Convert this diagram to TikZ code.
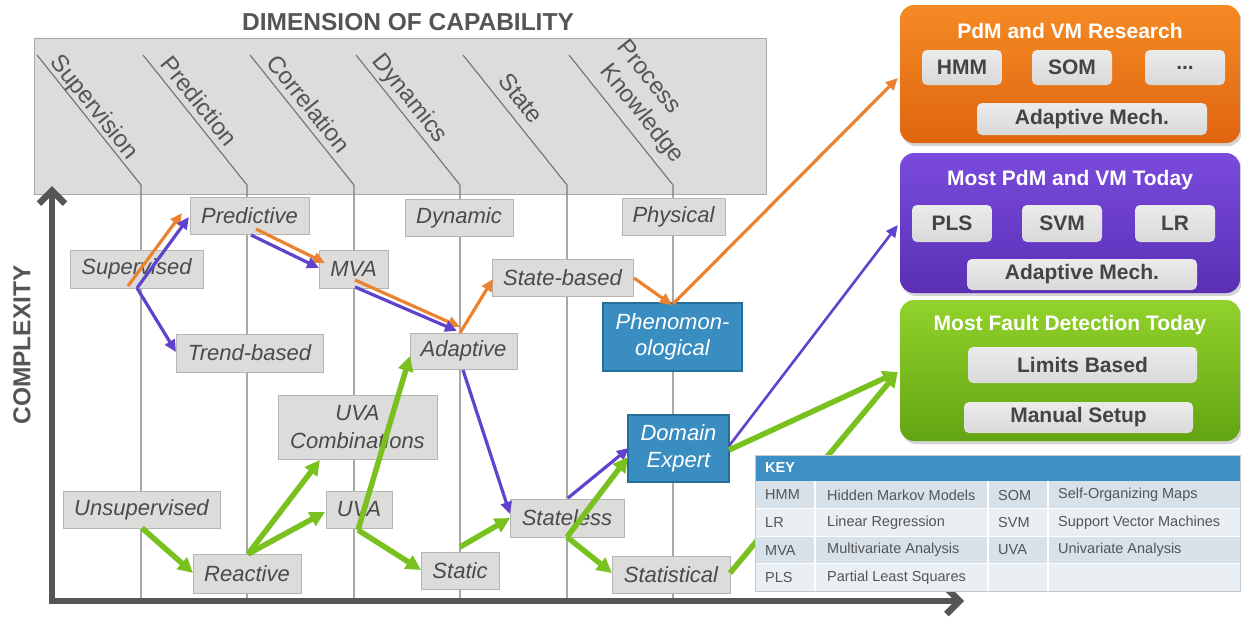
\documentclass[tikz,border=0pt]{standalone}
\usepackage{fontspec}
\setmainfont{Liberation Sans}
\usetikzlibrary{arrows.meta,calc,shadows}
\definecolor{hdrfill}{HTML}{DCDCDA}
\definecolor{hdrline}{HTML}{A8A8A8}
\definecolor{axisc}{HTML}{555555}
\definecolor{vline}{HTML}{7A7A7A}
\definecolor{gfill}{HTML}{DCDCDB}
\definecolor{gdraw}{HTML}{B5B5B5}
\definecolor{gtext}{HTML}{4A4A4A}
\definecolor{bfill}{HTML}{3A8DC0}
\definecolor{bdraw}{HTML}{276E98}
\definecolor{oc}{HTML}{EB8230}
\definecolor{pc}{HTML}{6142CC}
\definecolor{grc}{HTML}{79C11E}
\definecolor{otop}{HTML}{F58A25}
\definecolor{obot}{HTML}{E0650F}
\definecolor{ptop}{HTML}{7A4BDC}
\definecolor{pbot}{HTML}{5A2FB5}
\definecolor{gtop}{HTML}{92D22C}
\definecolor{gbot}{HTML}{62A512}
\definecolor{btntop}{HTML}{EBEBEB}
\definecolor{btnbot}{HTML}{D9D9D9}
\definecolor{btntext}{HTML}{444444}
\definecolor{keyhdr}{HTML}{3D8FC4}
\definecolor{keyrowa}{HTML}{D6E1EA}
\definecolor{keyrowb}{HTML}{EAEFF3}
\definecolor{keytext}{HTML}{555555}
\definecolor{keyborder}{HTML}{C8C8C8}
\begin{document}
\begin{tikzpicture}[x=1pt,y=-1pt,
  titlefont/.style={font=\fontsize{24.5}{28}\selectfont\bfseries, text=axisc},
  hdrlabel/.style={font=\fontsize{24}{28}\selectfont, text=axisc, rotate=-51.3, anchor=base west, inner sep=0pt},
  vln/.style={draw=vline, line width=1.2pt},
  axisline/.style={draw=axisc, line width=6.5pt},
  gbox/.style={draw=gdraw, line width=0.9pt, fill=gfill, text=gtext, font=\fontsize{22}{26}\selectfont\itshape, inner sep=0pt, align=center},
  bbox/.style={draw=bdraw, line width=1.5pt, fill=bfill, text=white, font=\fontsize{22}{26}\selectfont\itshape, inner sep=0pt, align=center},
  oarr/.style={draw=oc, line width=3.2pt, -{Triangle[length=12pt,width=11pt]}},
  parr/.style={draw=pc, line width=3.2pt, -{Triangle[length=12pt,width=11pt]}},
  garr/.style={draw=grc, line width=5.5pt, -{Triangle[length=15pt,width=15pt]}},
  rbox/.style={rounded corners=14pt, inner sep=0pt, minimum width=340, drop shadow={shadow xshift=2pt, shadow yshift=-3pt, opacity=0.35}},
  rtitle/.style={font=\fontsize{21}{25}\selectfont\bfseries, text=white, inner sep=0pt},
  btn/.style={rounded corners=5pt, top color=btntop, bottom color=btnbot, text=btntext, font=\fontsize{21}{25}\selectfont\bfseries, inner sep=0pt},
  keyfont/.style={font=\fontsize{14.5}{17}\selectfont, text=keytext, anchor=west, inner sep=0pt}
]
\useasboundingbox (0,0) rectangle (1241,619);

% ---------- header ----------
\node[titlefont] (title) at (408,22) {DIMENSION OF CAPABILITY};
\node[draw=hdrline, line width=0.9pt, fill=hdrfill, minimum width=732, minimum height=156, inner sep=0pt] (hdr) at (400,116) {};

\foreach \x in {141,247,354,460,567,673}{
  \draw[vln] (\x-104,55) -- (\x,185) -- (\x,600);
}

\node[hdrlabel] (lsup) at (49.5,62.5) {Supervision};
\node[hdrlabel] (lpred) at (159.5,64.5) {Prediction};
\node[hdrlabel] (lcorr) at (265.5,63) {Correlation};
\node[hdrlabel] (ldyn) at (371.5,61.5) {Dynamics};
\node[hdrlabel] (lstate) at (497,81.5) {State};
\node[hdrlabel] (lproc) at (616.5,47.5) {Process};
\node[hdrlabel] (lknow) at (599.5,71.5) {Knowledge};

% ---------- axes ----------
\draw[axisline, line join=miter, {Straight Barb[length=13pt,width=26pt]}-{Straight Barb[length=13pt,width=26pt]}] (52,186) -- (52,601) -- (964,601);
\node[titlefont, rotate=90] (complexity) at (22,345) {COMPLEXITY};

% ---------- gray nodes ----------
\node[gbox, minimum width=119, minimum height=37] (pred) at (249.5,215.5) {Predictive};
\node[gbox, minimum width=133, minimum height=38] (sup) at (136.5,269) {Supervised};
\node[gbox, minimum width=69, minimum height=38] (mva) at (353.5,269) {MVA};
\node[gbox, minimum width=147, minimum height=38] (trend) at (249.5,353) {Trend-based};
\node[gbox, minimum width=108, minimum height=37] (dyn) at (459,217.5) {Dynamic};
\node[gbox, minimum width=103, minimum height=37] (phys) at (673.5,216.5) {Physical};
\node[gbox, minimum width=141, minimum height=37] (stb) at (562.5,277.5) {State-based};
\node[gbox, minimum width=107, minimum height=36] (adapt) at (463.5,351) {Adaptive};
\node[gbox, minimum width=159, minimum height=64, font=\fontsize{22}{28}\selectfont\itshape] (uvac) at (357.5,427) {UVA\\Combinations};
\node[gbox, minimum width=66, minimum height=37] (uva) at (359,509.5) {UVA};
\node[gbox, minimum width=157, minimum height=37] (unsup) at (141.5,509.5) {Unsupervised};
\node[gbox, minimum width=108, minimum height=39] (react) at (247,573.5) {Reactive};
\node[gbox, minimum width=78, minimum height=37] (static) at (460,570.5) {Static};
\node[gbox, minimum width=114, minimum height=38] (stless) at (567,518) {Stateless};
\node[gbox, minimum width=118, minimum height=37] (statl) at (671,574.5) {Statistical};
\node[bbox, minimum width=139, minimum height=68] (phen) at (672.5,337) {Phenomon-\\ological};
\node[bbox, minimum width=101, minimum height=67, font=\fontsize{22}{27}\selectfont\itshape] (dom) at (678.5,448.5) {Domain\\Expert};

% ---------- right boxes ----------
\node[rbox, top color=otop, bottom color=obot, minimum height=138] (ob) at (1070,74) {};
\node[rtitle] (obt) at (1070,31) {PdM and VM Research};
\node[btn, minimum width=80, minimum height=35] (hmm) at (962,67.5) {HMM};
\node[btn, minimum width=80, minimum height=35] (som) at (1072,67.5) {SOM};
\node[btn, minimum width=80, minimum height=35] (etc) at (1185,67.5) {...};
\node[btn, minimum width=230, minimum height=32] (oad) at (1092,119) {Adaptive Mech.};

\node[rbox, top color=ptop, bottom color=pbot, minimum height=140] (pb) at (1070,223) {};
\node[rtitle] (pbt) at (1070,180) {Most PdM and VM Today};
\node[btn, minimum width=80, minimum height=37] (pls) at (952,223.5) {PLS};
\node[btn, minimum width=80, minimum height=37] (svm) at (1062,223.5) {SVM};
\node[btn, minimum width=80, minimum height=37] (lr) at (1175,223.5) {LR};
\node[btn, minimum width=230, minimum height=31] (pad) at (1082,274.5) {Adaptive Mech.};

\node[rbox, top color=gtop, bottom color=gbot, minimum height=141] (gb) at (1070,370.5) {};
\node[rtitle] (gbt) at (1070,325) {Most Fault Detection Today};
\node[btn, minimum width=229, minimum height=36] (lim) at (1082.5,365) {Limits Based};
\node[btn, minimum width=229, minimum height=31] (man) at (1078.5,417.5) {Manual Setup};

% ---------- arrows ----------
% orange
\draw[oarr] ($(sup)+(-8.5,17)$) -- ($(pred)+(-67.5,-2.5)$);
\draw[oarr] ($(pred)+(6.5,13.5)$) -- ($(mva)+(-28.5,-6)$);
\draw[oarr] ($(mva)+(1.5,11)$) -- ($(adapt)+(-3.5,-24)$);
\draw[oarr] ($(adapt)+(-3.5,-18)$) -- ($(stb)+(-69.5,1.5)$);
\draw[oarr] ($(stb)+(71.5,0.5)$) -- ($(phen)+(-0.5,-32)$);
\draw[oarr] ($(phen)+(0.5,-33)$) -- ($(ob.west)+(-2,4)$);
% purple
\draw[parr] ($(sup)+(0.5,19)$) -- ($(pred)+(-60.5,1.5)$);
\draw[parr] ($(sup)+(0.5,19)$) -- ($(trend)+(-73.5,-1)$);
\draw[parr] ($(pred)+(1.5,19.5)$) -- ($(mva)+(-34.5,-1)$);
\draw[parr] ($(mva)+(1.5,18)$) -- ($(adapt)+(-6.5,-20)$);
\draw[parr] ($(adapt)+(-0.5,19)$) -- ($(stless)+(-57,-4)$);
\draw[parr] ($(stless)+(1,-20)$) -- ($(dom)+(-49.5,-0.5)$);
\draw[parr, line width=2.6pt] ($(dom)+(50.5,-2.5)$) -- ($(pb.west)+(-2,2)$);
% green
\draw[garr] ($(unsup)+(0.5,18.5)$) -- ($(react)+(-54,-0.5)$);
\draw[garr] ($(react)+(1,-19.5)$) -- ($(uvac)+(-37.5,33)$);
\draw[garr] ($(react)+(1,-19.5)$) -- ($(uva)+(-34,2.5)$);
\draw[garr] ($(uva)+(-1,20.5)$) -- ($(adapt)+(-53.5,5)$);
\draw[garr] ($(uva)+(-1,20.5)$) -- ($(static)+(-39,-0.5)$);
\draw[garr] ($(static)+(0,-23.5)$) -- ($(stless)+(-57,0)$);
\draw[garr] ($(stless)+(0,19)$) -- ($(dom)+(-50.5,8.5)$);
\draw[garr] ($(stless)+(0,19)$) -- ($(statl)+(-59,-1.5)$);
\draw[garr] ($(dom)+(50.5,1.5)$) -- ($(gb.west)+(-2,1.5)$);
\draw[garr] ($(statl)+(59,-1.5)$) -- ($(gb.west)+(-2,1.5)$);

% ---------- key ----------
\fill[white] (755,455) rectangle (1240,591);
\fill[keyhdr] (755,455) rectangle (1240,481);
\fill[keyrowa] (755,481) rectangle (1240,508.5);
\fill[keyrowb] (755,508.5) rectangle (1240,536);
\fill[keyrowa] (755,536) rectangle (1240,563.5);
\fill[keyrowb] (755,563.5) rectangle (1240,591);
\foreach \y in {508.5,536,563.5}{\draw[white, line width=1pt] (755,\y) -- (1240,\y);}
\foreach \x in {815,988,1048}{\draw[white, line width=1.5pt] (\x,481) -- (\x,591);}
\draw[keyborder, line width=1pt] (755,455) rectangle (1240,591);
\node[keyfont, text=white, font=\fontsize{14.5}{17}\selectfont\bfseries] (keyt) at (765,468) {KEY};
\node[keyfont] (k1) at (765,495) {HMM};
\node[keyfont] (k2) at (827,495) {Hidden Markov Models};
\node[keyfont] (k3) at (998,495) {SOM};
\node[keyfont] (k4) at (1058,495) {Self-Organizing Maps};
\node[keyfont] (k5) at (765,522.5) {LR};
\node[keyfont] (k6) at (827,522.5) {Linear Regression};
\node[keyfont] (k7) at (998,522.5) {SVM};
\node[keyfont] (k8) at (1058,522.5) {Support Vector Machines};
\node[keyfont] (k9) at (765,550) {MVA};
\node[keyfont] (k10) at (827,550) {Multivariate Analysis};
\node[keyfont] (k11) at (998,550) {UVA};
\node[keyfont] (k12) at (1058,550) {Univariate Analysis};
\node[keyfont] (k13) at (765,577.5) {PLS};
\node[keyfont] (k14) at (827,577.5) {Partial Least Squares};
\end{tikzpicture}
\end{document}
